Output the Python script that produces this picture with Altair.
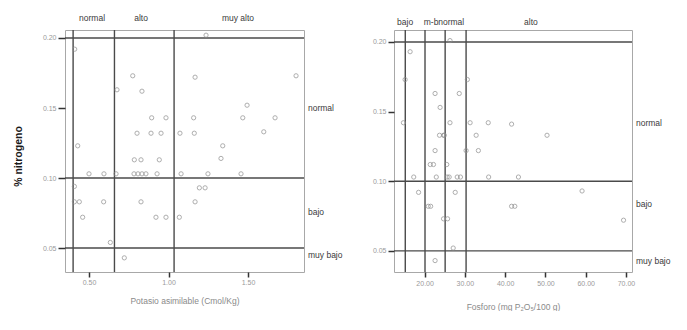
import altair as alt
import pandas as pd

# ---------------- Left panel: Potasio asimilable vs % nitrogeno ----------------
k_x = [0.41, 0.775, 0.676, 0.833, 0.894, 0.984, 0.802, 0.890, 0.953, 1.072, 0.429,
       1.236, 1.167, 1.802, 1.494, 1.158, 1.467, 1.670, 1.162, 1.599, 1.341, 1.330,
       0.785, 0.827, 0.942,
       0.500, 0.594, 0.670, 0.783, 0.808, 0.833, 0.858, 0.928, 1.079, 1.248, 1.456,
       0.408, 1.194, 1.230, 0.408, 0.439, 0.592, 0.827, 1.167, 0.460, 0.921, 0.984,
       1.068, 0.634, 0.722]
k_y = [0.192, 0.173, 0.163, 0.162, 0.143, 0.143, 0.132, 0.132, 0.132, 0.132, 0.123,
       0.202, 0.172, 0.173, 0.152, 0.143, 0.143, 0.143, 0.132, 0.133, 0.123, 0.114,
       0.113, 0.113, 0.113,
       0.103, 0.103, 0.103, 0.103, 0.103, 0.103, 0.103, 0.103, 0.103, 0.103, 0.103,
       0.094, 0.093, 0.093, 0.083, 0.083, 0.083, 0.083, 0.083, 0.072, 0.072, 0.072,
       0.072, 0.054, 0.043]
k_vlines = [0.40, 0.66, 1.035]
k_top_labels = ["normal", "alto", "muy alto"]
k_top_pos = [0.519, 0.827, 1.437]
k_xticks = [0.5, 1.0, 1.5]
k_domain = [0.349, 1.852]

# ---------------- Right panel: Fosforo vs % nitrogeno ----------------
p_x = [16.4, 15.16, 30.62, 22.6, 28.6, 23.85, 14.74, 26.3, 31.3, 35.8, 41.6, 23.7,
       24.7, 24.9, 32.8, 50.4, 22.6, 30.3, 33.35, 26.3, 21.4, 22.2, 25.5,
       17.3, 22.9, 25.6, 26.1, 28.1, 28.9, 35.9, 43.3,
       18.5, 27.6, 59.1, 20.9, 21.5, 41.6, 42.4, 24.7, 25.7, 69.4, 27.1, 22.6]
p_y = [0.193, 0.173, 0.173, 0.163, 0.163, 0.153, 0.142, 0.142, 0.142, 0.142, 0.141,
       0.133, 0.133, 0.133, 0.133, 0.133, 0.122, 0.122, 0.122, 0.201, 0.112, 0.112,
       0.112,
       0.103, 0.103, 0.103, 0.103, 0.103, 0.103, 0.103, 0.103,
       0.092, 0.092, 0.093, 0.082, 0.082, 0.082, 0.082, 0.073, 0.073, 0.072, 0.052,
       0.043]
p_vlines = [15.2, 20.1, 25.1, 30.3]
p_top_labels = ["bajo", "m-b", "normal", "alto"]
p_top_pos = [15.16, 21.6, 26.6, 46.4]
p_xticks = [20, 30, 40, 50, 60, 70]
p_domain = [12.4, 71.5]

# ---------------- shared nitrogen levels ----------------
n_hlines = [0.20, 0.10, 0.05]
n_yticks = [0.05, 0.10, 0.15, 0.20]
k_right_labels = ["normal", "bajo", "muy bajo"]
k_right_pos = [0.150, 0.0757, 0.045]
p_right_labels = ["normal", "bajo", "muy bajo"]
p_right_pos = [0.1416, 0.0835, 0.0427]
k_ydomain = [0.0329, 0.2057]
p_ydomain = [0.0348, 0.2086]

FONT = "Liberation Sans"
LINE = "#4a4a4a"
PT = "#8c8c8c"
TXT = "#3a3a3a"


def panel(xs, ys, vlines, top_labels, top_pos, right_labels, right_pos,
          xdom, ydom, xticks, xtitle, ytitle, w, h, xtitle_y, ytick, xlab_pad,
          top_y):
    xsc = alt.Scale(domain=xdom, nice=False, zero=False)
    ysc = alt.Scale(domain=ydom, nice=False, zero=False)
    pts = pd.DataFrame({"x": xs, "y": ys})
    if ytitle:
        yaxis = alt.Axis(values=n_yticks, format=".2f", tickSize=ytick, labelPadding=2,
                         title=ytitle, titleFontWeight="bold", titleColor="#1a1a1a",
                         titleFontSize=10.5, titleX=-47, titleY=126, titleAlign="center",
                         titleBaseline="middle", titleAngle=270)
    else:
        yaxis = alt.Axis(values=n_yticks, format=".2f", tickSize=ytick, labelPadding=2,
                         title=None)
    xaxis = alt.Axis(values=xticks, format=".2f", tickSize=5, labelPadding=xlab_pad,
                     title=xtitle, titleY=xtitle_y, titleBaseline="middle")
    X = alt.X("x:Q", scale=xsc, axis=xaxis)
    Y = alt.Y("y:Q", scale=ysc, axis=yaxis)
    base_pts = alt.Chart(pts).mark_point(shape="circle", filled=False, size=18,
                                         color=PT, strokeWidth=1).encode(x=X, y=Y)
    vr = alt.Chart(pd.DataFrame({"x": vlines})).mark_rule(
        color=LINE, strokeWidth=1.4).encode(x=X)
    hr = alt.Chart(pd.DataFrame({"y": n_hlines})).mark_rule(
        color=LINE, strokeWidth=1.4).encode(y=Y)
    top = alt.Chart(pd.DataFrame({"x": top_pos, "t": top_labels})).mark_text(
        font=FONT, fontSize=8.5, color=TXT, baseline="middle").encode(
        x=X, y=alt.value(top_y), text="t:N")
    right = alt.Chart(pd.DataFrame({"y": right_pos, "t": right_labels})).mark_text(
        font=FONT, fontSize=8.5, color=TXT, align="left", baseline="middle",
        dx=4).encode(x=alt.value(w), y=Y, text="t:N")
    return alt.layer(vr, hr, base_pts, top, right).properties(width=w, height=h)


left = panel(k_x, k_y, k_vlines, k_top_labels, k_top_pos, k_right_labels, k_right_pos,
             k_domain, k_ydomain, k_xticks, "Potasio asimilable (Cmol/Kg)", "% nitrogeno",
             239, 242, 28, 7, 1, -12)
right = panel(p_x, p_y, p_vlines, p_top_labels, p_top_pos, p_right_labels, p_right_pos,
              p_domain, p_ydomain, p_xticks, "Fosforo (mg P\u2082O\u2085/100 g)", None,
              238, 242, 34, 6, 2, -8)

chart = alt.hconcat(left, right, spacing=28).properties(
    padding={"left": 4, "top": 5, "right": 0, "bottom": 0},
    background="white",
).configure_view(
    stroke="#a8a8a8", strokeWidth=1
).configure_axis(
    domain=False, grid=False, tickColor="#333333", tickWidth=1.5,
    labelColor="#9a9a9a", labelFont=FONT, labelFontSize=7,
    titleColor="#8a8a8a", titleFont=FONT, titleFontSize=8.5, titleFontWeight="normal",
).configure_text(font=FONT)

chart.save("out.html", embed_options={"renderer": "svg", "actions": False})
